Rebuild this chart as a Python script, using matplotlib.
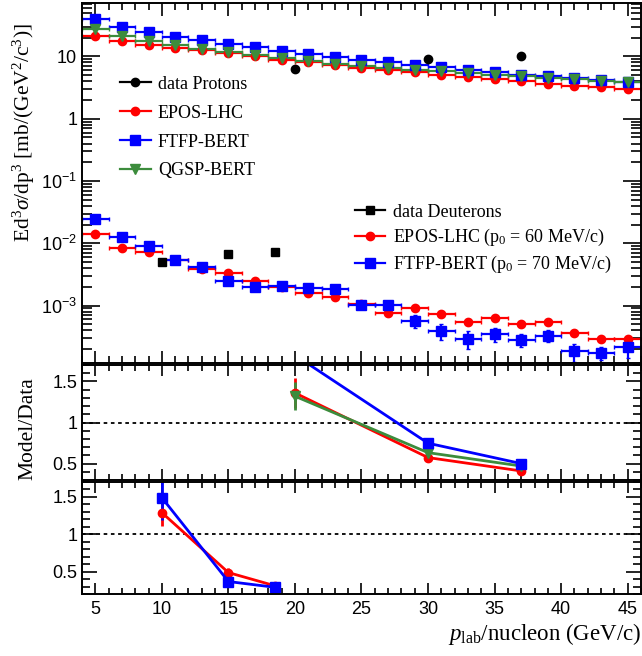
import numpy as np
import matplotlib
matplotlib.use("Agg")
import matplotlib.pyplot as plt
from matplotlib.lines import Line2D
from matplotlib.ticker import FixedLocator, MultipleLocator, FuncFormatter, LogLocator

plt.rcParams["font.family"] = ["Liberation Serif", "DejaVu Serif"]
plt.rcParams["mathtext.fontset"] = "custom"
plt.rcParams["mathtext.rm"] = "Liberation Serif"
plt.rcParams["mathtext.it"] = "Liberation Serif:italic"

# bin centres (2 GeV/c wide bins)
bin_x = [5, 7, 9, 11, 13, 15, 17, 19, 21, 23, 25, 27, 29, 31, 33, 35, 37, 39, 41, 43, 45]

# protons: model spectra
epos_p = [21.3, 17.5, 15.3, 13.5, 12.6, 11.2, 10.2, 8.8, 8.07, 7.2, 6.6, 6.0, 5.57, 5.1,
          4.63, 4.3, 3.98, 3.66, 3.4, 3.2, 3.0]
ftfp_p = [39.5, 30.0, 24.4, 20.8, 18.2, 16.1, 14.2, 12.4, 11.1, 9.8, 8.8, 8.07, 7.3, 6.7,
          6.1, 5.57, 5.1, 4.86, 4.47, 4.2, 3.85]
qgsp_p = [27.4, 21.3, 17.5, 15.1, 13.0, 11.7, 10.4, 9.35, 8.4, 7.66, 7.05, 6.46, 6.07, 5.85,
          5.43, 5.05, 4.86, 4.57, 4.3, 4.1, 3.9]
data_p_x = [20, 30, 37]
data_p = [6.37, 9.0, 10.2]

# deuterons: model spectra
epos_d = [0.0143, 0.00844, 0.00728, 0.0054, 0.00389, 0.00335, 0.00249, 0.00197, 0.00158,
          0.0014, 0.00105, 0.00076, 0.00091, 0.000737, 0.00055, 0.000641, 0.000508,
          0.00054, 0.000369, 0.000292, 0.00029]
epos_d_err = [0.0003, 0.0002, 0.00015, 0.0001, 0.00008, 0.00007, 0.00006, 0.00005, 0.00004,
              0.00004, 0.00004, 0.00004, 0.00004, 0.00004, 0.00003, 0.00004, 0.00003,
              0.00003, 0.00003, 0.00002, 0.00002]
ftfp_d = [0.0244, 0.01253, 0.00918, 0.00548, 0.00423, 0.00252, 0.0020, 0.00207, 0.00195,
          0.00188, 0.00101, 0.00101, 0.000575, 0.000389, 0.000295, 0.000347, 0.000284,
          0.000331, 0.000185, 0.000174, 0.000217]
ftfp_d_err = [0.0005, 0.0003, 0.0002, 0.00012, 0.0001, 0.00007, 0.00006, 0.00007, 0.00007,
              0.00008, 0.00008, 0.0001, 0.00013, 0.00011, 0.00009, 0.00009, 0.00007,
              0.00007, 0.00006, 0.00004, 0.00007]
data_d_x = [10, 15, 18.5]
data_d = [0.00498, 0.00676, 0.0072]

# ratios model/data, protons
rp_x = [20, 30, 37]
rp_epos = [1.36, 0.573, 0.41]
rp_epos_err = [0.18, 0.04, 0.03]
rp_qgsp = [1.32, 0.633, 0.47]
rp_qgsp_err = [0.17, 0.04, 0.03]
rp_ftfp = [1.82, 0.748, 0.50]
rp_ftfp_err = [0.10, 0.06, 0.03]

# ratios model/data, deuterons
rd_x = [10, 15, 18.5]
rd_epos = [1.29, 0.487, 0.31]
rd_epos_err = [0.18, 0.06, 0.03]
rd_ftfp = [1.49, 0.367, 0.29]
rd_ftfp_err = [0.30, 0.05, 0.03]

RED = "#ff0000"
BLUE = "#0000ff"
GREEN = "#3c8c3c"
SANS = "Liberation Sans"

W, H = 642, 656
fig = plt.figure(figsize=(W / 100, H / 100), dpi=100)
left, right = 82, 641
ax1 = fig.add_axes([left / W, 1 - 363 / H, (right - left) / W, 360 / H])
ax2 = fig.add_axes([left / W, 1 - 480 / H, (right - left) / W, 115 / H])
ax3 = fig.add_axes([left / W, 1 - 594 / H, (right - left) / W, 112 / H])

xerr = [1] * len(bin_x)
eb = dict(lw=1.6, capsize=1.5, elinewidth=1.6, ls="none")

# --- top panel
ax1.errorbar(bin_x, epos_p, xerr=xerr, color=RED, marker="o", ms=6, **eb)
ax1.errorbar(bin_x, ftfp_p, xerr=xerr, color=BLUE, marker="s", ms=6.5, **eb)
ax1.errorbar(bin_x, qgsp_p, xerr=xerr, color=GREEN, marker="v", ms=7, **eb)
ax1.plot(data_p_x, data_p, "o", color="black", ms=6)

ax1.errorbar(bin_x, epos_d, xerr=xerr, yerr=epos_d_err, color=RED, marker="o", ms=6, **eb)
ax1.errorbar(bin_x, ftfp_d, xerr=xerr, yerr=ftfp_d_err, color=BLUE, marker="s", ms=6.5, **eb)
ax1.plot(data_d_x, data_d, "s", color="black", ms=5.5)

ax1.set_yscale("log")
ax1.set_ylim(1.2e-4, 72)
ax1.yaxis.set_major_locator(FixedLocator([1e-3, 1e-2, 1e-1, 1, 10]))
ax1.yaxis.set_minor_locator(LogLocator(base=10, subs=np.arange(2, 10)))


def log_fmt(v, pos):
    e = int(round(np.log10(v)))
    if e == 0:
        return "1"
    if e == 1:
        return "10"
    return r"$\mathdefault{10^{%d}}$" % e


ax1.yaxis.set_major_formatter(FuncFormatter(log_fmt))
ax1.yaxis.set_minor_formatter(FuncFormatter(lambda v, p: ""))
ax1.set_ylabel(r"Ed$^{3}\sigma$/dp$^{3}$ [mb/(GeV$^{2}$/c$^{3}$)]", fontsize=15.5)
ax1.yaxis.set_label_coords(-0.08, 0.64)

# legends
h_p = [Line2D([], [], color="black", marker="o", ms=6, lw=1.6),
       Line2D([], [], color=RED, marker="o", ms=6, lw=1.6),
       Line2D([], [], color=BLUE, marker="s", ms=6.5, lw=1.6),
       Line2D([], [], color=GREEN, marker="v", ms=7, lw=1.6)]
leg1 = ax1.legend(h_p, ["data Protons", "EPOS-LHC", "FTFP-BERT", "QGSP-BERT"],
                  loc="upper left", bbox_to_anchor=(0.068, 0.798), frameon=False,
                  fontsize=13, handlelength=1.7, handletextpad=0.4, labelspacing=0.66,
                  borderpad=0, borderaxespad=0)
ax1.add_artist(leg1)

h_d = [Line2D([], [], color="black", marker="s", ms=5.5, lw=1.6),
       Line2D([], [], color=RED, marker="o", ms=6, lw=1.6),
       Line2D([], [], color=BLUE, marker="s", ms=6.5, lw=1.6)]
ax1.legend(h_d, ["data Deuterons", r"EPOS-LHC (p$_{0}$ = 60 MeV/c)",
                 r"FTFP-BERT (p$_{0}$ = 70 MeV/c)"],
           loc="upper left", bbox_to_anchor=(0.488, 0.443), frameon=False,
           fontsize=13, handlelength=1.7, handletextpad=0.4, labelspacing=0.35,
           borderpad=0, borderaxespad=0)

# --- ratio panels
rb = dict(lw=2, elinewidth=2, capsize=0)
ax2.errorbar(rp_x, rp_epos, yerr=rp_epos_err, color=RED, marker="o", ms=6, **rb)
ax2.errorbar(rp_x, rp_qgsp, yerr=rp_qgsp_err, color=GREEN, marker="v", ms=7, **rb)
ax2.errorbar(rp_x, rp_ftfp, yerr=rp_ftfp_err, color=BLUE, marker="s", ms=6.5, **rb)
ax2.set_ylim(0.3, 1.7)
ax2.set_ylabel("Model/Data", fontsize=15.5)
ax2.yaxis.set_label_coords(-0.08, 0.45)

ax3.errorbar(rd_x, rd_epos, yerr=rd_epos_err, color=RED, marker="o", ms=6, **rb)
ax3.errorbar(rd_x, rd_ftfp, yerr=rd_ftfp_err, color=BLUE, marker="s", ms=6.5, **rb)
ax3.set_ylim(0.2, 1.7)
ax3.set_xlabel(r"$p_{\rm lab}$/nucleon (GeV/c)", fontsize=16.5, loc="right", labelpad=2)

for ax in (ax2, ax3):
    ax.axhline(1, color="black", ls=(0, (2, 2)), lw=1.3, zorder=1)
    ax.yaxis.set_major_locator(FixedLocator([0.5, 1, 1.5]))
    ax.yaxis.set_minor_locator(MultipleLocator(0.1))
    ax.yaxis.set_major_formatter(FuncFormatter(lambda v, p: "%g" % v))

for ax in (ax1, ax2, ax3):
    ax.set_xlim(4, 46)
    ax.xaxis.set_major_locator(MultipleLocator(5))
    ax.xaxis.set_minor_locator(MultipleLocator(1))
    ax.tick_params(which="both", direction="in", top=True, right=True, width=1.2)
    for s in ax.spines.values():
        s.set_linewidth(1.4)
    for lab in ax.get_yticklabels() + ax.get_xticklabels():
        lab.set_fontfamily(SANS)
        lab.set_fontsize(13)

ax1.tick_params(axis="y", which="major", length=13)
ax1.tick_params(axis="y", which="minor", length=7)
ax1.tick_params(axis="x", which="major", length=9)
ax1.tick_params(axis="x", which="minor", length=5)
for ax in (ax2, ax3):
    ax.tick_params(axis="y", which="major", length=11)
    ax.tick_params(axis="y", which="minor", length=6)
    ax.tick_params(axis="x", which="major", length=8)
    ax.tick_params(axis="x", which="minor", length=4)

ax1.tick_params(axis="x", labelbottom=False)
ax2.tick_params(axis="x", labelbottom=False)
ax3.tick_params(axis="x", pad=5)

fig.savefig("out.png", dpi=100)
